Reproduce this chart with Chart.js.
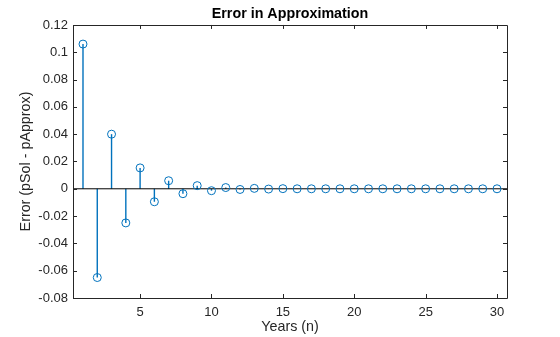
<!DOCTYPE html>
<html>
<head>
<meta charset="utf-8">
<script src="https://cdn.jsdelivr.net/npm/chart.js@4.4.1/dist/chart.umd.min.js"></script>
<style>
  html, body { margin: 0; padding: 0; background: #fff; }
  #wrap { width: 560px; height: 337px; position: relative; }
</style>
</head>
<body>
<div id="wrap"><canvas id="c"></canvas></div>
<script>
// years n = 1..30 and the error
const years = [1, 2, 3, 4, 5, 6, 7, 8, 9, 10, 11, 12, 13, 14, 15,
  16, 17, 18, 19, 20, 21, 22, 23, 24, 25, 26, 27, 28, 29, 30];
const errors = [0.106, -0.065, 0.040, -0.025, 0.0153, -0.0095, 0.0059, -0.0036, 0.0023, -0.0014,
  0.0009, -0.0005, 0.0003, -0.0002, 0.0001, 0, 0, 0, 0, 0,
  0, 0, 0, 0, 0, 0, 0, 0, 0, 0];
const xTicks = [5, 10, 15, 20, 25, 30];
const yTicks = [-0.08, -0.06, -0.04, -0.02, 0, 0.02, 0.04, 0.06, 0.08, 0.1, 0.12];
const xRange = [0.3, 30.7];
const yRange = [-0.08, 0.12];

const STEM = '#0072BD';
const AXIS = '#262626';
const FONT = 'Arial, "Liberation Sans", Helvetica, sans-serif';

const points = years.map((n, i) => ({ x: n, y: errors[i] }));

function fmt(v) {
  const s = (+v.toFixed(4)).toString();
  return s === '-0' ? '0' : s;
}

// MATLAB-style box with inward tick marks on all four sides
const boxPlugin = {
  id: 'box',
  afterDatasetsDraw(chart) {
    const { ctx, chartArea: a, scales } = chart;
    ctx.save();
    ctx.strokeStyle = AXIS;
    ctx.lineWidth = 1;
    ctx.beginPath();
    ctx.rect(Math.round(a.left) + 0.5, Math.round(a.top) + 0.5,
      Math.round(a.right - a.left), Math.round(a.bottom - a.top));
    ctx.stroke();
    const len = 4;
    ctx.beginPath();
    xTicks.forEach(t => {
      const px = Math.round(scales.x.getPixelForValue(t)) + 0.5;
      ctx.moveTo(px, a.bottom); ctx.lineTo(px, a.bottom - len);
      ctx.moveTo(px, a.top); ctx.lineTo(px, a.top + len);
    });
    yTicks.forEach(t => {
      const py = Math.round(scales.y.getPixelForValue(t)) + 0.5;
      ctx.moveTo(a.left, py); ctx.lineTo(a.left + len, py);
      ctx.moveTo(a.right, py); ctx.lineTo(a.right - len, py);
    });
    ctx.stroke();
    ctx.restore();
  }
};

new Chart(document.getElementById('c'), {
  data: {
    datasets: [
      {
        type: 'bar',
        data: points,
        backgroundColor: STEM,
        borderWidth: 0,
        inflateAmount: 0,
        barThickness: 1.4,
        order: 3
      },
      {
        type: 'line',
        data: [{ x: xRange[0], y: 0 }, { x: xRange[1], y: 0 }],
        borderColor: '#000',
        borderWidth: 1,
        pointRadius: 0,
        order: 2
      },
      {
        type: 'scatter',
        data: points,
        pointStyle: 'circle',
        pointRadius: 4,
        borderWidth: 1,
        borderColor: STEM,
        backgroundColor: 'rgba(0,0,0,0)',
        order: 1
      }
    ]
  },
  plugins: [boxPlugin],
  options: {
    responsive: true,
    maintainAspectRatio: false,
    animation: false,
    layout: { padding: { left: 0, right: 53, top: 0, bottom: 0 } },
    plugins: {
      legend: { display: false },
      tooltip: { enabled: false },
      title: {
        display: true,
        fullSize: false,
        text: 'Error in Approximation',
        color: '#000',
        font: { family: FONT, size: 14.3, weight: 'bold' },
        padding: { top: 5.4, bottom: 2.4 }
      }
    },
    scales: {
      x: {
        type: 'linear',
        offset: false,
        min: xRange[0],
        max: xRange[1],
        afterBuildTicks: s => { s.ticks = xTicks.map(v => ({ value: v })); },
        afterFit: s => { s.height = 39; },
        grid: { display: false, drawTicks: false, offset: false },
        border: { display: false },
        ticks: { color: AXIS, font: { family: FONT, size: 13 }, padding: 7, maxRotation: 0 },
        title: {
          display: true,
          text: 'Years (n)',
          color: AXIS,
          font: { family: FONT, size: 14.3 },
          padding: { top: 0, bottom: 1.5 }
        }
      },
      y: {
        type: 'linear',
        min: yRange[0],
        max: yRange[1],
        afterBuildTicks: s => { s.ticks = yTicks.map(v => ({ value: v })); },
        afterFit: s => { s.width = 73; },
        grid: { display: false, drawTicks: false },
        border: { display: false },
        ticks: { color: AXIS, font: { family: FONT, size: 13 }, padding: 5, callback: v => fmt(v) },
        title: {
          display: true,
          text: 'Error (pSol - pApprox)',
          color: AXIS,
          font: { family: FONT, size: 14.3 },
          padding: { top: 17.4, bottom: 0 }
        }
      }
    }
  }
});
</script>
</body>
</html>
